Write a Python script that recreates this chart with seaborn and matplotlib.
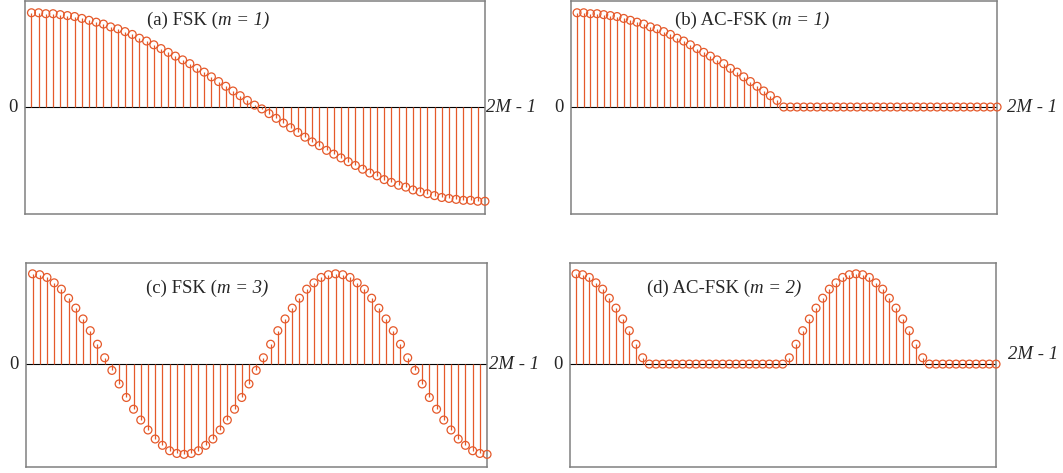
import pandas as pd
import seaborn as sns
import matplotlib.pyplot as plt

# sample index 0 .. 2M-1
n = list(range(64))

# (a) FSK, m = 1
fsk_m1 = [1.00, 1.00, 0.99, 0.99, 0.98, 0.97, 0.96, 0.94, 0.92, 0.90, 0.88, 0.85, 0.83, 0.80, 0.77, 0.73,
          0.70, 0.66, 0.62, 0.58, 0.54, 0.50, 0.46, 0.41, 0.37, 0.32, 0.27, 0.22, 0.17, 0.12, 0.07, 0.02,
          -0.02, -0.07, -0.12, -0.17, -0.22, -0.27, -0.32, -0.37, -0.41, -0.46, -0.50, -0.54, -0.58, -0.62,
          -0.66, -0.70, -0.73, -0.77, -0.80, -0.83, -0.85, -0.88, -0.90, -0.92, -0.94, -0.96, -0.97, -0.98,
          -0.99, -0.99, -1.00, -1.00]

# (b) AC-FSK, m = 1
acfsk_m1 = [1.00, 1.00, 0.99, 0.99, 0.98, 0.97, 0.96, 0.94, 0.92, 0.90, 0.88, 0.85, 0.83, 0.80, 0.77, 0.73,
            0.70, 0.66, 0.62, 0.58, 0.54, 0.50, 0.46, 0.41, 0.37, 0.32, 0.27, 0.22, 0.17, 0.12, 0.07, 0.00,
            0.00, 0.00, 0.00, 0.00, 0.00, 0.00, 0.00, 0.00, 0.00, 0.00, 0.00, 0.00, 0.00, 0.00, 0.00, 0.00,
            0.00, 0.00, 0.00, 0.00, 0.00, 0.00, 0.00, 0.00, 0.00, 0.00, 0.00, 0.00, 0.00, 0.00, 0.00, 0.00]

# (c) FSK, m = 3
fsk_m3 = [1.00, 0.99, 0.96, 0.90, 0.83, 0.73, 0.62, 0.50, 0.37, 0.22, 0.07, -0.07, -0.22, -0.37, -0.50, -0.62,
          -0.73, -0.83, -0.90, -0.96, -0.99, -1.00, -0.99, -0.96, -0.90, -0.83, -0.73, -0.62, -0.50, -0.37,
          -0.22, -0.07, 0.07, 0.22, 0.37, 0.50, 0.62, 0.73, 0.83, 0.90, 0.96, 0.99, 1.00, 0.99, 0.96, 0.90,
          0.83, 0.73, 0.62, 0.50, 0.37, 0.22, 0.07, -0.07, -0.22, -0.37, -0.50, -0.62, -0.73, -0.83, -0.90,
          -0.96, -0.99, -1.00]

# (d) AC-FSK, m = 2
acfsk_m2 = [1.00, 0.99, 0.96, 0.90, 0.83, 0.73, 0.62, 0.50, 0.37, 0.22, 0.07, 0.00, 0.00, 0.00, 0.00, 0.00,
            0.00, 0.00, 0.00, 0.00, 0.00, 0.00, 0.00, 0.00, 0.00, 0.00, 0.00, 0.00, 0.00, 0.00, 0.00, 0.00,
            0.07, 0.22, 0.37, 0.50, 0.62, 0.73, 0.83, 0.90, 0.96, 0.99, 1.00, 0.99, 0.96, 0.90, 0.83, 0.73,
            0.62, 0.50, 0.37, 0.22, 0.07, 0.00, 0.00, 0.00, 0.00, 0.00, 0.00, 0.00, 0.00, 0.00, 0.00, 0.00]

# title = upright part + italic part
title_head = ['(a) FSK (', '(b) AC-FSK (', '(c) FSK (', '(d) AC-FSK (']
title_tail = ['m = 1)', 'm = 1)', 'm = 3)', 'm = 2)']

STEM = '#e5592a'
SPINE = '#808080'
FS = 13.5

sns.set_theme(style='white')
plt.rcParams['font.family'] = ['Liberation Serif', 'DejaVu Serif']

fig = plt.figure(figsize=(10.63, 4.73), dpi=100)

# [left, bottom, width, height], title split point (axes frac), ylim, offset of "2M - 1" label (px)
panels = [
    ([0.0235, 0.5486, 0.4327, 0.4503], (0.42, 0.905), (-1.13, 1.13), (1, 0)),
    ([0.5372, 0.5486, 0.4008, 0.4503], (0.486, 0.905), (-1.13, 1.13), (10, 0)),
    ([0.0245, 0.0127, 0.4337, 0.4313], (0.414, 0.877), (-1.14, 1.12), (2, 0)),
    ([0.5362, 0.0127, 0.4008, 0.4313], (0.423, 0.877), (-1.14, 1.12), (12, 10)),
]
series = [fsk_m1, acfsk_m1, fsk_m3, acfsk_m2]

for (rect, tpos, ylim, lab_off), vals, head, tail in zip(panels, series, title_head, title_tail):
    ax = fig.add_axes(rect)
    df = pd.DataFrame({'n': n, 'v': vals})

    ax.axhline(0, color='black', lw=0.8, zorder=1)
    ax.vlines(df['n'], 0, df['v'], color=STEM, lw=0.9, zorder=2)
    sns.scatterplot(data=df, x='n', y='v', ax=ax, marker='o', s=32, facecolor='none',
                    edgecolor=STEM, linewidth=0.9, clip_on=False, zorder=3)

    ax.set_xlim(-0.9, 63)
    ax.set_ylim(*ylim)
    ax.set_xticks([])
    ax.set_yticks([])
    ax.set_xlabel('')
    ax.set_ylabel('')
    for sp in ax.spines.values():
        sp.set_color(SPINE)
        sp.set_linewidth(1.1)

    ax.text(tpos[0], tpos[1], head, transform=ax.transAxes, ha='right', va='center', fontsize=FS)
    ax.text(tpos[0], tpos[1], tail, transform=ax.transAxes, ha='left', va='center', fontsize=FS,
            style='italic')
    ax.annotate('0', xy=(0, 0), xycoords=('axes fraction', 'data'), xytext=(-7, 0),
                textcoords='offset pixels', ha='right', va='center', fontsize=FS)
    ax.annotate('2M - 1', xy=(1, 0), xycoords=('axes fraction', 'data'), xytext=lab_off,
                textcoords='offset pixels', ha='left', va='center', fontsize=FS, style='italic')

fig.savefig('out.png', dpi=100)
